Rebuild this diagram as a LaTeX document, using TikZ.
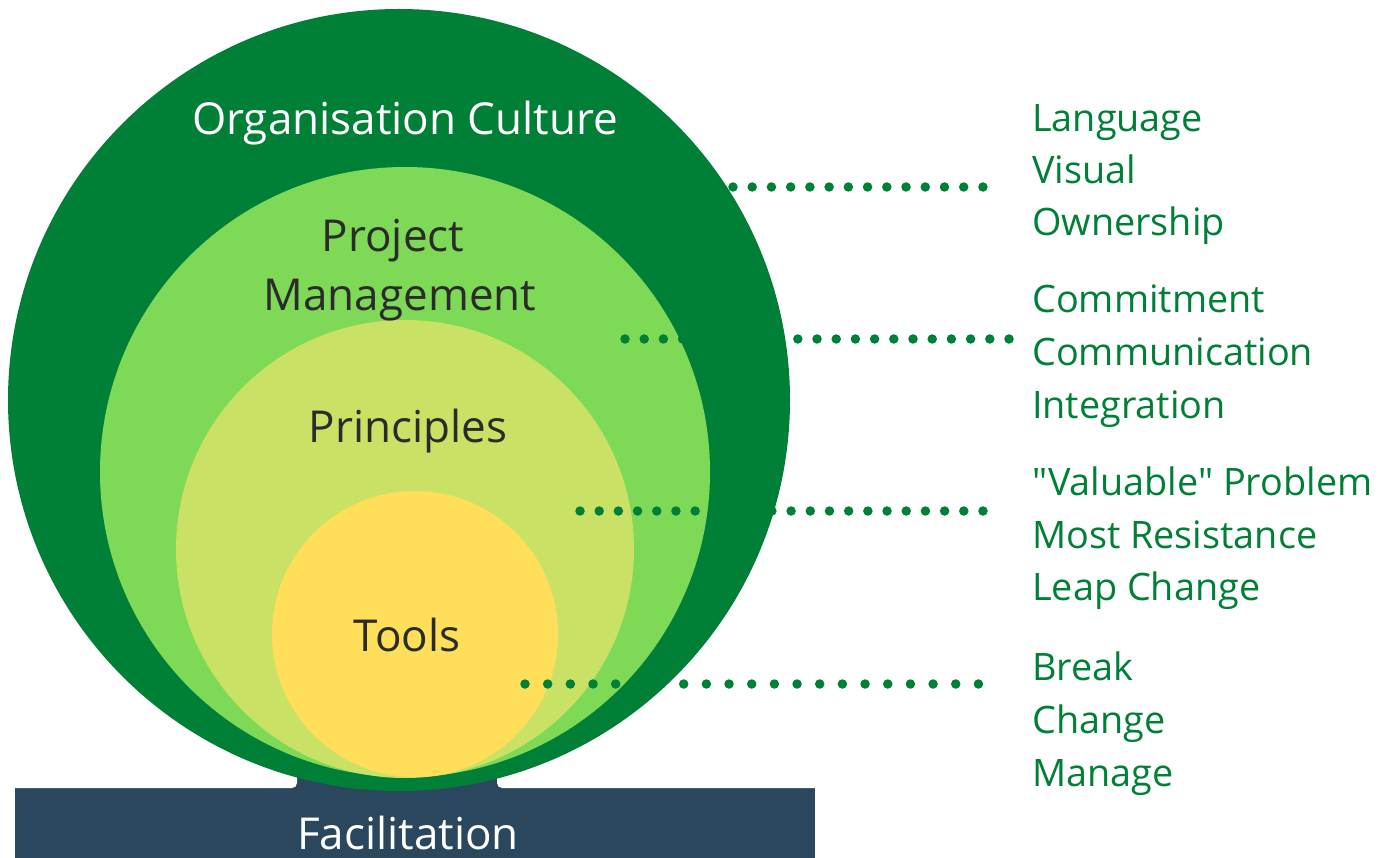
\documentclass[tikz,border=0pt]{standalone}
\usepackage{fontspec}
\setmainfont{Open Sans}
\newfontfamily\sidefont{Open Sans}[Ligatures=TeXOff]
\definecolor{dg}{HTML}{008037}
\definecolor{lg}{HTML}{7ED957}
\definecolor{yg}{HTML}{C9E265}
\definecolor{yl}{HTML}{FFDE59}
\definecolor{barc}{HTML}{2A475E}
\definecolor{txt}{HTML}{2B2B2B}
\begin{document}
\begin{tikzpicture}[x=1pt,y=-1pt,
  ring/.style={circle,inner sep=0pt,draw=none},
  biglab/.style={inner sep=0pt,anchor=base,font=\fontsize{44}{52}\selectfont,text=txt},
  sidelab/.style={inner sep=0pt,anchor=base west,font=\sidefont\fontsize{37.8}{52}\selectfont,text=dg},
  dotrow/.style={draw=dg,line width=9.5pt,line cap=round}]
\useasboundingbox (0,0) rectangle (1386,858);
% base bar
\fill[barc] (15,760) rectangle (815,858);
\fill[white,rounded corners=5pt] (-20,700) rectangle (297,788);
\fill[white,rounded corners=5pt] (497,700) rectangle (840,788);
% circles
\node[ring,fill=dg,minimum size=782pt] (oc) at (399,400) {};
\node[ring,fill=lg,minimum size=610pt] (pm) at (405,472) {};
\node[ring,fill=yg,minimum size=458pt] (pr) at (405,549) {};
\node[ring,fill=yl,minimum size=286pt] (tl) at (415,634) {};
% dotted leaders
\coordinate (a1) at (694.5,187); \coordinate (a2) at (983.6,187);
\coordinate (b1) at (625,339);   \coordinate (b2) at (1009.6,339);
\coordinate (c1) at (580,511);   \coordinate (c2) at (983.6,511);
\coordinate (d1) at (525,684);   \coordinate (d2) at (978.6,684);
\draw[dotrow,dash pattern=on 0pt off 19.23pt] (a1) -- (a2);
\draw[dotrow,dash pattern=on 0pt off 19.2pt] (b1) -- (b2);
\draw[dotrow,dash pattern=on 0pt off 19.19pt] (c1) -- (c2);
\draw[dotrow,dash pattern=on 0pt off 22.67pt] (d1) -- (d2);
% circle labels
\node[biglab,text=white] (l1) at (405,135) {Organisation Culture};
\node[biglab] (l2) at (393,252) {Project};
\node[biglab] (l3) at (400,311) {Management};
\node[biglab] (l4) at (408,442) {Principles};
\node[biglab] (l5) at (407,651) {Tools};
\node[biglab,text=white] (l6) at (408,849) {Facilitation};
% side lists
\node[sidelab] (s1) at (1032,132) {Language};
\node[sidelab] (s2) at (1032,184) {Visual};
\node[sidelab] (s3) at (1032,236) {Ownership};
\node[sidelab] (s4) at (1032,313) {Commitment};
\node[sidelab] (s5) at (1032,366) {Communication};
\node[sidelab] (s6) at (1032,418) {Integration};
\node[sidelab] (s7) at (1032,495) {"Valuable" Problem};
\node[sidelab] (s8) at (1032,548) {Most Resistance};
\node[sidelab] (s9) at (1032,600) {Leap Change};
\node[sidelab] (s10) at (1032,680) {Break};
\node[sidelab] (s11) at (1032,733) {Change};
\node[sidelab] (s12) at (1032,786) {Manage};
\end{tikzpicture}
\end{document}
